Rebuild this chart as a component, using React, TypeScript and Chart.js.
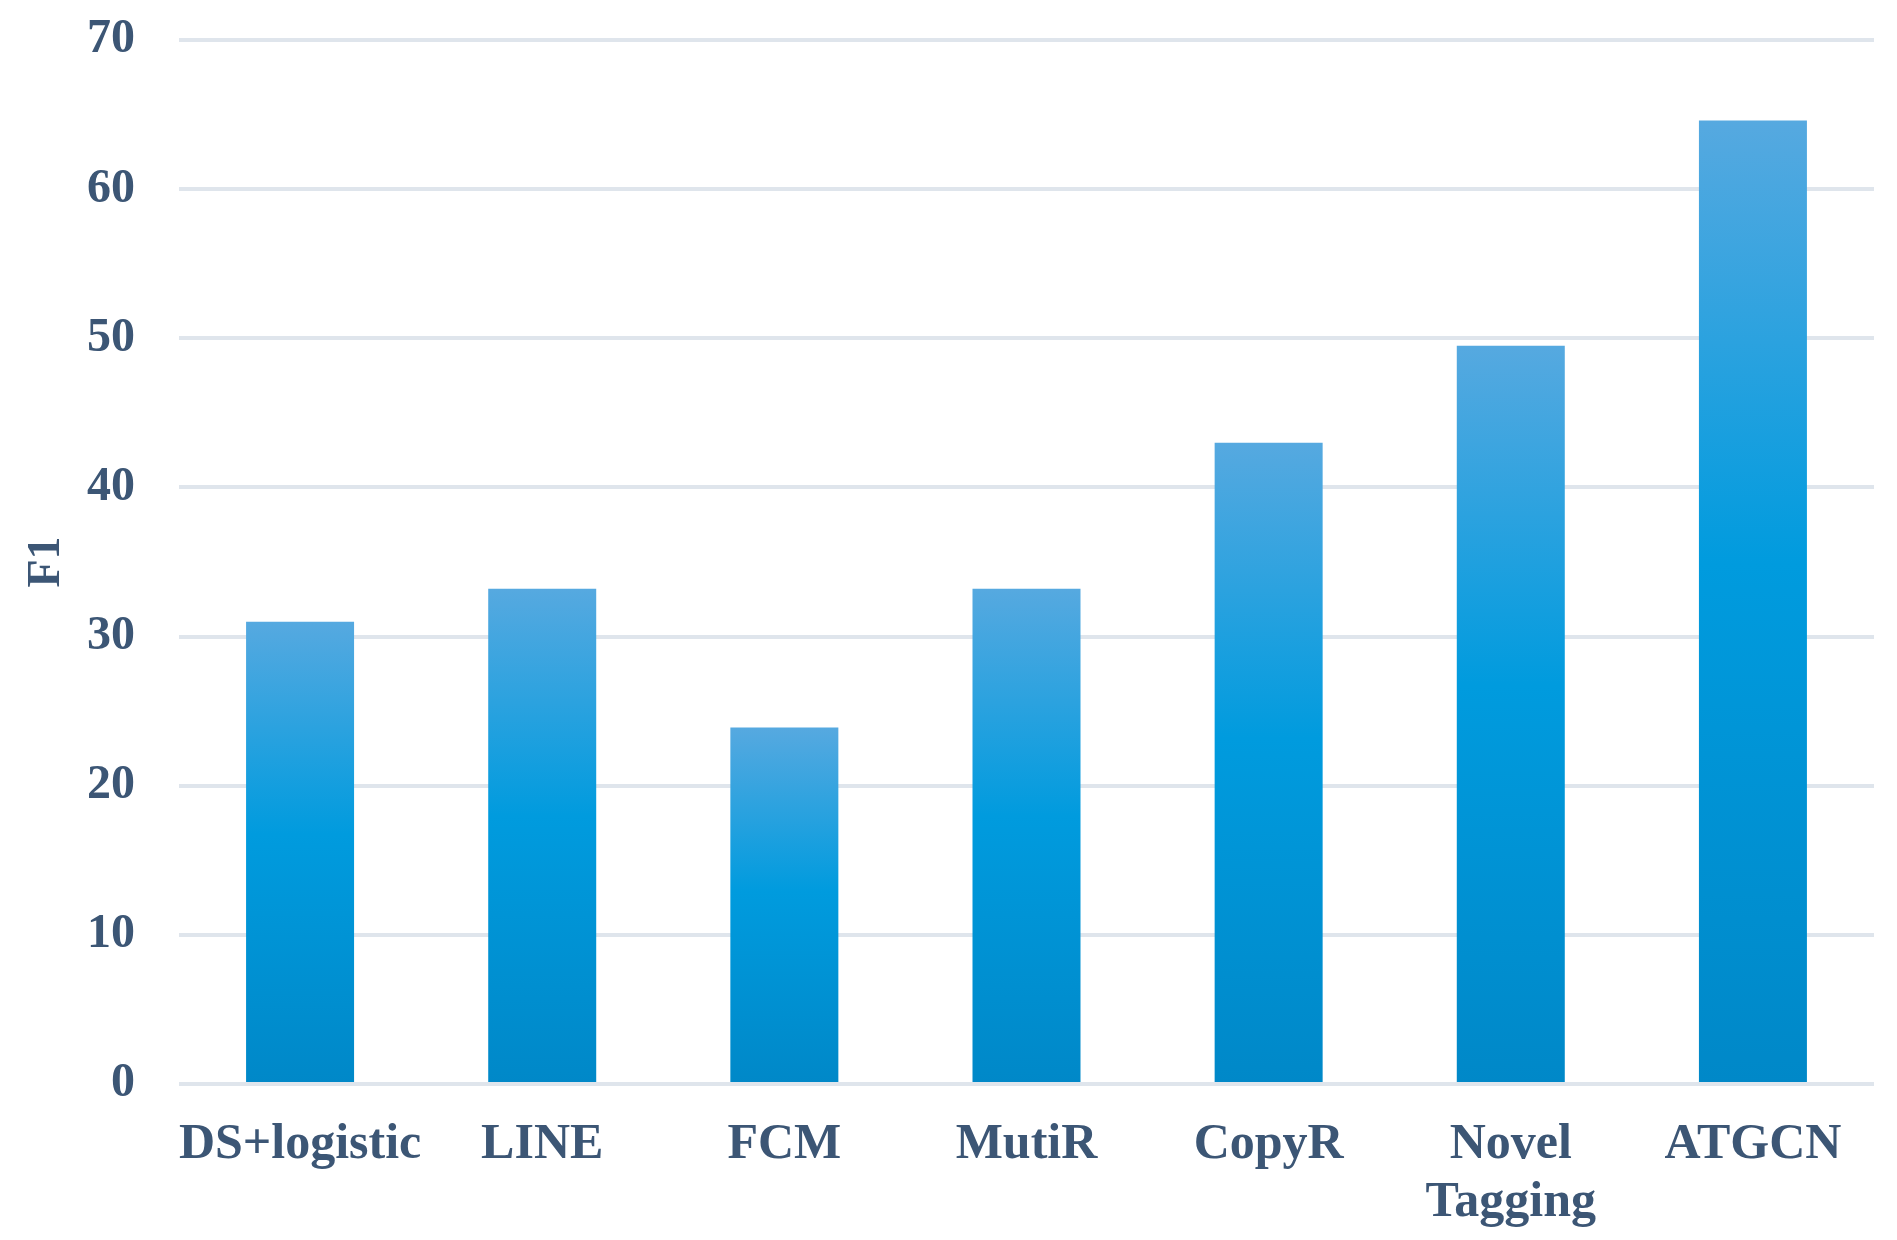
import React, { useEffect, useRef } from "react";
import { Chart, registerables } from "chart.js";

Chart.register(...registerables);

const categories: (string | string[])[] = [
  "DS+logistic",
  "LINE",
  "FCM",
  "MutiR",
  "CopyR",
  ["Novel", "Tagging"],
  "ATGCN",
];
const f1Values: number[] = [31.0, 33.2, 23.9, 33.2, 43.0, 49.5, 64.6];
const yTicks: number[] = [0, 10, 20, 30, 40, 50, 60, 70];
const yAxisTitle = "F1";

const TEXT = "#3c5675";
const FONT = "'Liberation Serif', 'Times New Roman', serif";

export default function App() {
  const ref = useRef<HTMLCanvasElement | null>(null);

  useEffect(() => {
    document.body.style.margin = "0";
    const canvas = ref.current;
    if (!canvas) return;
    const chart = new Chart(canvas, {
      type: "bar",
      data: {
        labels: categories,
        datasets: [
          {
            label: yAxisTitle,
            data: f1Values,
            barPercentage: 0.446,
            categoryPercentage: 1,
            borderWidth: 0,
            backgroundColor: (ctx: any) => {
              const ch = ctx.chart;
              if (!ch.chartArea || !ch.scales || !ch.scales.y) return "#009ade";
              const v = ctx.parsed ? ctx.parsed.y : ctx.raw;
              if (v == null) return "#009ade";
              const y = ch.scales.y;
              const top = y.getPixelForValue(v);
              const bottom = y.getPixelForValue(0);
              if (!isFinite(top) || !isFinite(bottom) || top === bottom) return "#009ade";
              const g = ch.ctx.createLinearGradient(0, top, 0, bottom);
              g.addColorStop(0, "#56a9e0");
              g.addColorStop(0.46, "#009bde");
              g.addColorStop(1, "#0088c8");
              return g;
            },
          },
        ],
      },
      options: {
        animation: false,
        responsive: true,
        maintainAspectRatio: false,
        layout: { padding: { left: 0, right: 23, top: 40, bottom: 0 } },
        plugins: {
          legend: { display: false },
          tooltip: { enabled: false },
        },
        scales: {
          x: {
            grid: { display: false, drawTicks: false },
            border: { display: false },
            ticks: {
              color: TEXT,
              padding: 32,
              maxRotation: 0,
              autoSkip: false,
              font: { family: FONT, size: 50, weight: "bold", lineHeight: 1.16 },
            },
            afterFit: (s: any) => {
              s.height = 156;
            },
          },
          y: {
            min: 0,
            max: 70,
            afterBuildTicks: (s: any) => {
              s.ticks = yTicks.map((v) => ({ value: v }));
            },
            grid: { color: "#dfe5ec", lineWidth: 4, drawTicks: false },
            border: { display: false },
            ticks: {
              color: TEXT,
              padding: 44,
              font: { family: FONT, size: 48, weight: "bold", lineHeight: 1.2 },
            },
            title: {
              display: true,
              text: yAxisTitle,
              color: TEXT,
              padding: { top: 20, bottom: 0 },
              font: { family: FONT, size: 46, weight: "bold", lineHeight: 1.2 },
            },
            afterFit: (s: any) => {
              s.width = 179;
              s.paddingTop = 0;
              s.paddingBottom = 0;
            },
          },
        },
      },
    });
    return () => chart.destroy();
  }, []);

  return (
    <div style={{ width: 1897, height: 1240, position: "relative", background: "#ffffff" }}>
      <canvas ref={ref} />
    </div>
  );
}
